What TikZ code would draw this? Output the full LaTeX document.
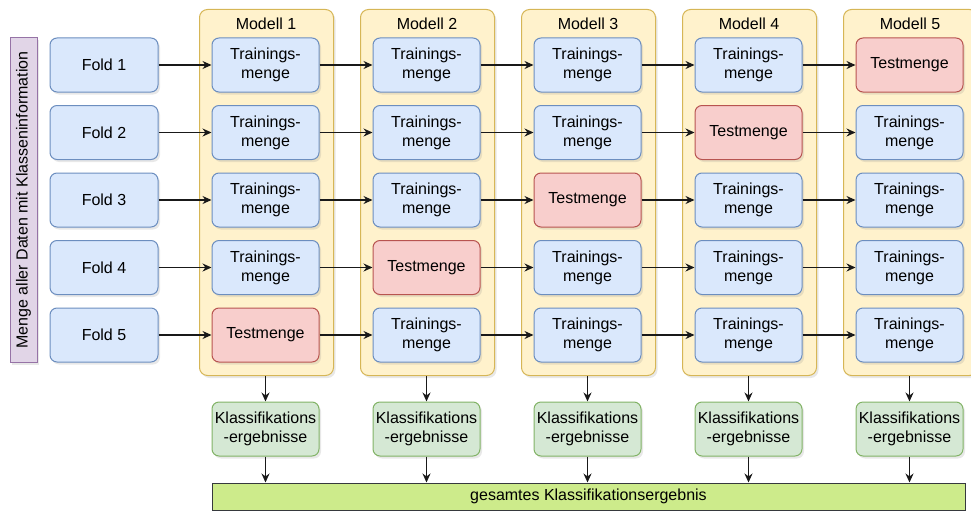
\documentclass[tikz,border=0pt]{standalone}
\usepackage{fontspec}
\setmainfont{Liberation Sans}
\usetikzlibrary{arrows.meta,shadows}
\definecolor{blueF}{HTML}{DAE8FC}\definecolor{blueD}{HTML}{6C8EBF}
\definecolor{redF}{HTML}{F8CECC}\definecolor{redD}{HTML}{B85450}
\definecolor{yelF}{HTML}{FFF2CC}\definecolor{yelD}{HTML}{D6B656}
\definecolor{grnF}{HTML}{D5E8D4}\definecolor{grnD}{HTML}{82B366}
\definecolor{purF}{HTML}{E1D5E7}\definecolor{purD}{HTML}{9673A6}
\definecolor{barF}{HTML}{CDEB8B}\definecolor{barD}{HTML}{36393D}
\begin{document}
\begin{tikzpicture}[x=1pt,y=-1pt,
  font=\fontsize{16}{19}\selectfont,
  shade/.style={drop shadow={opacity=0.18,shadow xshift=2pt,shadow yshift=-2.5pt}},
  box/.style={draw,rounded corners=7pt,line width=1pt,align=center,inner sep=0pt,
    minimum width=107,minimum height=54,shade},
  foldbox/.style={box,fill=blueF,draw=blueD,minimum width=108},
  trainbox/.style={box,fill=blueF,draw=blueD},
  testbox/.style={box,fill=redF,draw=redD},
  resultbox/.style={box,fill=grnF,draw=grnD},
  modelbox/.style={draw=yelD,fill=yelF,rounded corners=8pt,line width=1pt,
    minimum width=134,minimum height=366,anchor=north west,inner sep=0pt,shade},
  databox/.style={draw=purD,fill=purF,line width=1pt,minimum width=324,
    minimum height=27,inner sep=0pt,rotate=90,shade},
  totalbox/.style={draw=barD,fill=barF,line width=1pt,minimum width=753,
    minimum height=27,inner sep=0pt},
  arr/.style={-{Stealth[length=9pt,width=8pt]},line width=1.3pt,black!90}]
\useasboundingbox (0,0) rectangle (971,511);

% data set bar on the left
\node[databox] (data) at (23.5,200) {Menge aller Daten mit Klasseninformation};

% folds
\foreach \r in {1,...,5}{
  \node[foldbox] (f\r) at (104,{65+67.5*(\r-1)}) {Fold \r};
}

% model columns with their training / test sets
\foreach \i in {1,...,5}{
  \node[modelbox] (m\i) at ({199+161*(\i-1)},9) {};
  \node (ml\i) at ({266+161*(\i-1)},23.5) {Modell \i};
  \foreach \r in {1,...,5}{
    \pgfmathtruncatemacro\s{\i+\r}
    \ifnum\s=6
      \node[testbox] (b\i-\r) at ({265.5+161*(\i-1)},{65+67.5*(\r-1)}) {Testmenge};
    \else
      \node[trainbox] (b\i-\r) at ({265.5+161*(\i-1)},{65+67.5*(\r-1)}) {Trainings-\\menge};
    \fi
  }
  \node[resultbox] (g\i) at ({265.5+161*(\i-1)},429) {Klassifikations\\-ergebnisse};
}

% overall result
\node[totalbox] (total) at (588.5,496.5) {gesamtes Klassifikationsergebnis};

% connectors
\foreach \r in {1,...,5}{
  \draw[arr] (f\r) -- (b1-\r);
  \foreach \i [remember=\i as \p (initially 1)] in {2,...,5}{
    \draw[arr] (b\p-\r) -- (b\i-\r);
  }
}
\foreach \i in {1,...,5}{
  \draw[arr] (m\i.south -| g\i) -- (g\i.north);
  \draw[arr] (g\i.south) -- (g\i.south |- total.north);
}
\end{tikzpicture}
\end{document}
